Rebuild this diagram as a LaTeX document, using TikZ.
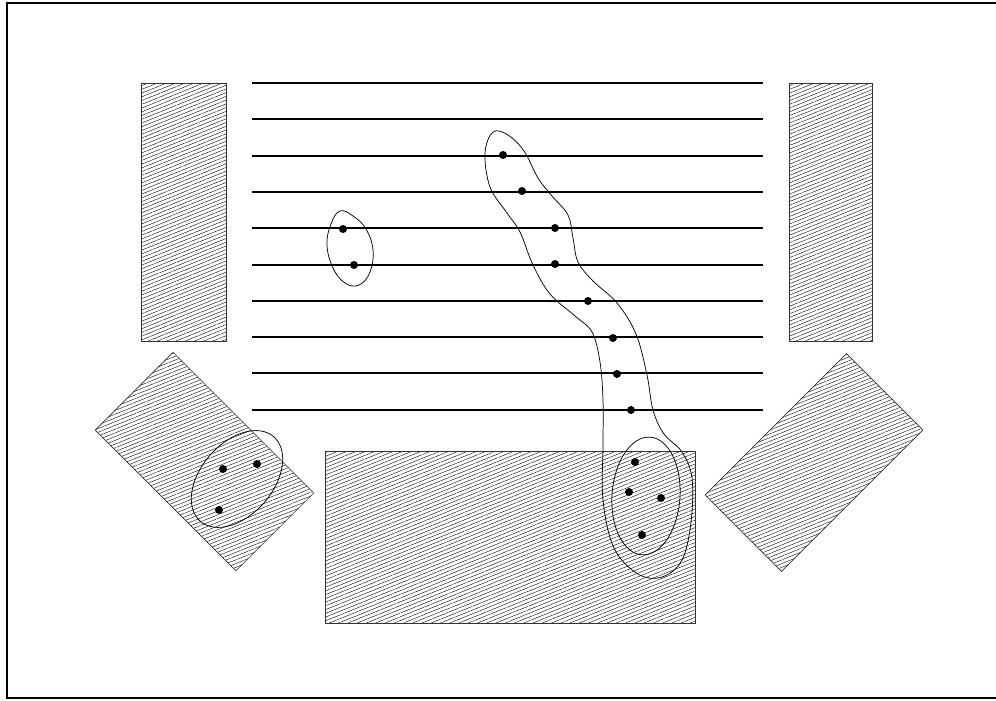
\documentclass[tikz,border=0pt]{standalone}
\usetikzlibrary{patterns.meta}

\begin{document}
\begin{tikzpicture}[
  x=0.75pt, y=-0.75pt,
  track/.style={line width=1.5pt},
  hatchbox/.style={draw=black!80, line width=0.5pt,
                   pattern={Lines[angle=22, distance=2.6pt, line width=0.3pt]}},
  blob/.style={draw, line width=0.55pt},
  dot/.style={circle, fill=black, inner sep=0pt, minimum size=6pt},
]
\useasboundingbox (0,0) rectangle (996,700);

% outer frame (right edge falls off the page)
\draw[line width=1.5pt] (1000,3) -- (7,3) -- (7,698) -- (1000,698);

% hatched blocks
\draw[hatchbox] (141,83) rectangle (226,341);
\draw[hatchbox] (789,83) rectangle (872,341);
\draw[hatchbox] (325,451) rectangle (695,623);
\draw[hatchbox, rotate around={-45:(204.5,461.5)}] (105,406.5) rectangle (304,516.5);
\draw[hatchbox, rotate around={45:(814,462.5)}] (714,408.5) rectangle (914,516.5);

% ten horizontal tracks
\foreach \y in {83,119.3,155.6,191.9,228.2,264.5,300.8,337.1,373.4,409.7}
  \draw[track] (252,\y) -- (763,\y);

% dots
\node[dot] (a1) at (343,229) {};
\node[dot] (a2) at (354,265) {};

\node[dot] (b1) at (503,155) {};
\node[dot] (b2) at (522,191) {};
\node[dot] (b3) at (555,228) {};
\node[dot] (b4) at (555,264) {};
\node[dot] (b5) at (588,301) {};
\node[dot] (b6) at (613,338) {};
\node[dot] (b7) at (617,374) {};
\node[dot] (b8) at (631,410) {};

\node[dot] (c1) at (635,462) {};
\node[dot] (c2) at (629,492) {};
\node[dot] (c3) at (661,498) {};
\node[dot] (c4) at (642,535) {};

\node[dot] (e1) at (223,469) {};
\node[dot] (e2) at (257,464) {};
\node[dot] (e3) at (219,510) {};

% outlines round the groups
\draw[blob] plot[smooth cycle, tension=0.7] coordinates {
  (340,211) (331,224) (327,245) (333,268) (345,283) (359,285)
  (370,272) (373,250) (366,229) (353,216)};

\draw[blob, rotate around={49:(237,479)}] (237,479) ellipse [x radius=56, y radius=36];

\draw[blob, rotate around={-4:(646,496)}] (646,496) ellipse [x radius=34, y radius=59];

\draw[blob] plot[smooth cycle, tension=0.6] coordinates {
  (493,132) (485,153) (490,187) (507,213) (520,232) (533,265) (550,294)
  (575,316) (592,332) (600,362) (603,400) (603,445) (603,500) (614,548)
  (638,574) (662,577) (682,560) (691,522) (692,478) (682,452) (664,434)
  (653,410) (647,375) (636,334) (617,303) (593,281) (578,262) (573,238)
  (568,215) (552,196) (538,178) (524,151) (508,135)};

\end{tikzpicture}
\end{document}
